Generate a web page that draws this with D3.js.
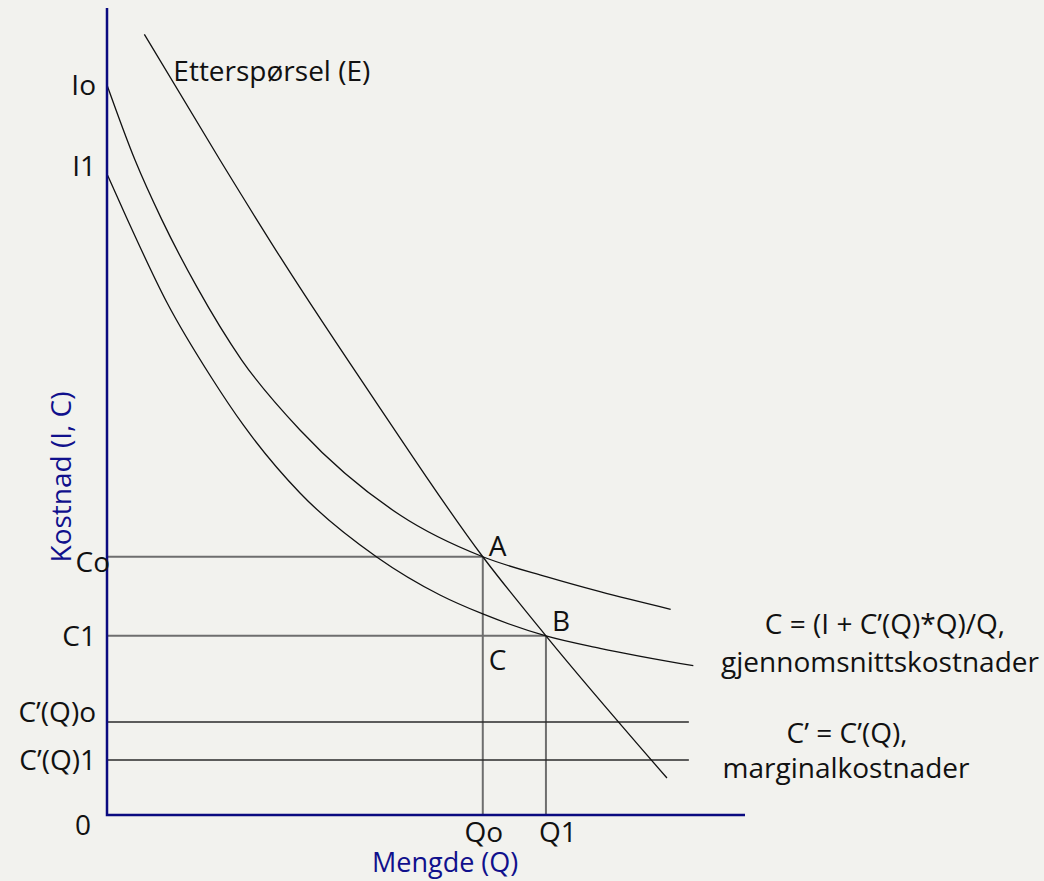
<!DOCTYPE html>
<html>
<head>
<meta charset="utf-8">
<script src="https://cdn.jsdelivr.net/npm/d3@7"></script>
<style>
	body { margin: 0; background: #f2f2ee; }
	svg { display: block; }
	text { font-family: 'Open Sans', 'DejaVu Sans', sans-serif; font-size: 28px; fill: #111; }
</style>
</head>
<body>
<div id="chart"></div>
<script>

var WIDTH = 1044;
var HEIGHT = 881;

// curve points, [Q, cost] in chart units (0..10 on both axes)
var demand = [[0.585, 9.674], [1.771, 8.116], [2.712, 6.918], [4.279, 5.043],
	[5.89, 3.20], [6.88, 2.22], [8.777, 0.458]];
var avgCostIo = [[0, 9.046], [0.439, 8.116], [0.857, 7.381], [1.406, 6.547], [2.111, 5.638],
	[3.025, 4.771], [4.592, 3.717], [5.89, 3.20], [6.897, 2.95], [7.727, 2.767], [8.835, 2.549]];
var avgCostI1 = [[0, 7.943], [0.309, 7.398], [0.935, 6.357], [1.641, 5.415], [2.136, 4.833],
	[3.025, 3.990], [4.227, 3.197], [5.219, 2.726], [5.89, 2.491], [6.88, 2.22],
	[7.727, 2.066], [9.19, 1.850]];

var marginalCost = [1.152, 0.682];
var marginalEnd = 9.12;

var quantities = [5.89, 6.88];   // Qo, Q1
var avgCosts = [3.20, 2.22];     // Co, C1

var yTickLabels = ['Io', 'I1', 'Co', 'C1', 'C\u2019(Q)o', 'C\u2019(Q)1', '0'];
var yTickValues = [9.046, 7.943, 3.20, 2.22, 1.152, 0.682, 0];
var xTickLabels = ['Qo', 'Q1'];

var x = d3.scaleLinear().domain([0, 10]).range([107, 745]);
var y = d3.scaleLinear().domain([0, 10]).range([815, 8]);

var svg = d3.select('#chart').append('svg')
	.attr('width', WIDTH)
	.attr('height', HEIGHT);

svg.append('rect')
	.attr('width', WIDTH)
	.attr('height', HEIGHT)
	.attr('fill', '#f2f2ee');

// guide lines to A and B
var guides = svg.append('g')
	.attr('stroke', '#6e6e6e')
	.attr('stroke-width', 2);

quantities.forEach(function(q, i) {
	guides.append('line')
		.attr('x1', x(0)).attr('x2', x(q))
		.attr('y1', y(avgCosts[i])).attr('y2', y(avgCosts[i]));
	guides.append('line')
		.attr('x1', x(q)).attr('x2', x(q))
		.attr('y1', y(avgCosts[i])).attr('y2', y(0));
});

// marginal cost lines
svg.append('g').selectAll('line')
	.data(marginalCost)
	.join('line')
	.attr('x1', x(0)).attr('x2', x(marginalEnd))
	.attr('y1', function(d) { return y(d); })
	.attr('y2', function(d) { return y(d); })
	.attr('stroke', '#2a2a2a')
	.attr('stroke-width', 1.6);

var line = d3.line()
	.x(function(d) { return x(d[0]); })
	.y(function(d) { return y(d[1]); })
	.curve(d3.curveMonotoneX);

svg.append('g').selectAll('path')
	.data([demand, avgCostIo, avgCostI1])
	.join('path')
	.attr('d', line)
	.attr('fill', 'none')
	.attr('stroke', '#111')
	.attr('stroke-width', 1.3);

// axes
svg.append('path')
	.attr('d', 'M ' + x(0) + ',' + y(10) + ' L ' + x(0) + ',' + y(0) + ' L ' + x(10) + ',' + y(0))
	.attr('fill', 'none')
	.attr('stroke', '#0a0a80')
	.attr('stroke-width', 2.5);

// y tick labels, a few of them sit off their level like in the original
var yNudge = { 'I1': -8, 'Co': 5, 'C\u2019(Q)o': -10, '0': 10 };
var xNudge = { 'Co': 14, '0': -5 };
svg.append('g').selectAll('text')
	.data(yTickLabels)
	.join('text')
	.attr('x', function(d) { return x(0) - 11 + (xNudge[d] || 0); })
	.attr('y', function(d, i) { return y(yTickValues[i]) + (yNudge[d] || 0); })
	.attr('dy', '0.36em')
	.attr('text-anchor', 'end')
	.text(function(d) { return d; });

var qNudge = [1, 12];
svg.append('g').selectAll('text')
	.data(xTickLabels)
	.join('text')
	.attr('x', function(d, i) { return x(quantities[i]) + qNudge[i]; })
	.attr('y', y(0) + 27)
	.attr('text-anchor', 'middle')
	.text(function(d) { return d; });

// point labels
svg.append('text').attr('x', x(quantities[0]) + 6).attr('y', y(avgCosts[0]) - 1).text('A');
svg.append('text').attr('x', x(quantities[1]) + 6).attr('y', y(avgCosts[1]) - 5).text('B');
svg.append('text').attr('x', x(quantities[0]) + 6).attr('y', y(avgCosts[1]) + 34).text('C');

svg.append('text')
	.attr('x', x(1.04))
	.attr('y', y(9.09))
	.text('Etterspørsel (E)');

// axis titles
svg.append('text')
	.attr('x', x(5.3))
	.attr('y', y(0) + 57)
	.attr('text-anchor', 'middle')
	.style('font-size', '27px')
	.style('fill', '#10108c')
	.text('Mengde (Q)');

svg.append('text')
	.attr('transform', 'translate(71,477) rotate(-90)')
	.attr('text-anchor', 'middle')
	.style('fill', '#10108c')
	.text('Kostnad (I, C)');

// curve descriptions on the right
var notes = [
	['C = (I + C\u2019(Q)*Q)/Q,', 885, 634],
	['gjennomsnittskostnader', 880, 672],
	['C\u2019 = C\u2019(Q),', 847, 743],
	['marginalkostnader', 846, 778]
];
svg.append('g').selectAll('text')
	.data(notes)
	.join('text')
	.attr('x', function(d) { return d[1]; })
	.attr('y', function(d) { return d[2]; })
	.attr('text-anchor', 'middle')
	.text(function(d) { return d[0]; });

</script>
</body>
</html>
